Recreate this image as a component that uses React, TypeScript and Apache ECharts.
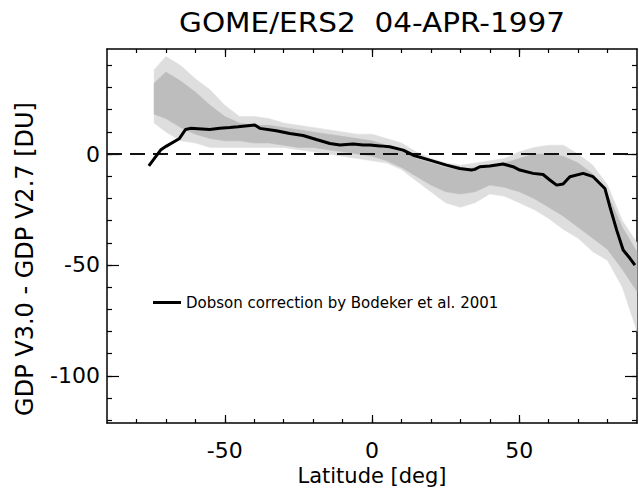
import React, { useEffect, useRef } from "react";
import * as echarts from "echarts";

const titleText = "GOME/ERS2  04-APR-1997";
const xName = "Latitude [deg]";
const yName = "GDP V3.0 - GDP V2.7 [DU]";
const legendName = "Dobson correction by Bodeker et al. 2001";

const xMin = -90;
const xMax = 90;
const yMin = -121.3;
const yMax = 47.4;
const xMajorTicks = [-50, 0, 50];
const xMinorTicks = [-80, -70, -60, -50, -40, -30, -20, -10, 0, 10, 20, 30, 40, 50, 60, 70, 80];
const yMajorTicks = [-100, -50, 0];
const yMinorTicks = [-120, -110, -100, -90, -80, -70, -60, -50, -40, -30, -20, -10, 0, 10, 20, 30, 40];

// Dobson correction curve
const dobsonLat = [
  -75.8, -71.8, -69.8, -65.5, -63.3, -61.7, -55.1, -51.7, -48.3, -45.5, -39.8, -38.1, -32.5, -27.9,
  -23.4, -18.9, -14.3, -10.9, -6.4, -3.0, -0.7, 2.7, 6.0, 10.6, 14.0, 19.6, 25.3, 29.8, 33.8, 34.9,
  36.6, 40.0, 44.5, 47.9, 50.2, 54.7, 58.1, 60.4, 62.7, 64.9, 67.2, 71.7, 75.1, 79.1, 80.8, 83.1,
  85.3, 87.6, 89.3,
];
const dobsonVal = [
  -5.3, 1.8, 3.6, 6.9, 11.1, 11.6, 11.1, 11.7, 12.0, 12.3, 13.1, 11.6, 10.5, 9.3, 8.4, 6.6, 4.8, 4.1,
  4.5, 4.1, 4.1, 3.7, 3.3, 1.8, -0.5, -2.7, -5.0, -6.5, -7.2, -6.9, -5.7, -5.4, -4.5, -5.7, -7.2, -8.7,
  -9.2, -11.7, -14.0, -13.5, -10.2, -8.7, -10.2, -15.5, -23.8, -34.3, -43.3, -47.0, -50.1,
];

// GOME difference cloud: envelopes of the scattered points
const bandLat = [
  -74, -70, -65, -60, -55, -50, -45, -40, -35, -30, -25, -20, -15, -10, -5, 0, 5, 10, 15, 20, 25, 30,
  35, 40, 45, 50, 55, 60, 65, 70, 75, 80, 85, 90,
];
const outerUpper = [
  38, 44, 40, 34, 29, 22, 17, 17, 16, 14, 13, 12, 11, 10, 9, 9, 7, 5, 1, -2, -4, -5, -4, -3, -2, 1, 3,
  4, 4, 0, -5, -14, -30, -40,
];
const outerLower = [
  14, 10, 6, 5, 3, 3, 3, 3, 3, 3, 2, 1, 0, -1, -2, -3, -4, -7, -12, -17, -22, -24, -22, -18, -19, -22,
  -25, -29, -34, -38, -44, -48, -60, -80,
];
const innerUpper = [
  32, 37, 33, 28, 22, 17, 14, 13, 13, 12, 11, 10, 9, 8, 7, 6, 4, 2, -2, -4, -6, -7, -6, -5, -4, -2, 0,
  0, -1, -4, -9, -18, -33, -44,
];
const innerLower = [
  18, 16, 12, 9, 7, 6, 6, 5, 5, 4, 3, 3, 2, 1, 0, -1, -3, -6, -10, -14, -17, -18, -17, -14, -15, -17,
  -20, -24, -28, -33, -38, -43, -52, -62,
];

const FONT = "DejaVu Sans, Verdana, sans-serif";

function xAxisDef(position: "top" | "bottom", major: boolean, labels: boolean) {
  return {
    type: "value",
    position,
    min: xMin,
    max: xMax,
    name: labels ? xName : "",
    nameLocation: "middle",
    nameGap: 40,
    nameTextStyle: { fontSize: 21, color: "#000", fontFamily: FONT },
    axisLine: { show: major, onZero: false, lineStyle: { color: "#000", width: 1.5 } },
    axisTick: {
      show: true,
      inside: true,
      length: major ? 8 : 4,
      customValues: major ? xMajorTicks : xMinorTicks,
      lineStyle: { color: "#000", width: 1.2 },
    },
    axisLabel: {
      show: labels,
      customValues: xMajorTicks,
      margin: 16,
      fontSize: 22,
      color: "#000",
      fontFamily: FONT,
    },
    splitLine: { show: false },
  };
}

function yAxisDef(position: "left" | "right", major: boolean, labels: boolean) {
  return {
    type: "value",
    position,
    min: yMin,
    max: yMax,
    name: labels ? yName : "",
    nameLocation: "middle",
    nameGap: 70,
    nameTextStyle: { fontSize: 24, color: "#000", fontFamily: FONT, padding: [0, 46, 0, 0] },
    axisLine: { show: major, onZero: false, lineStyle: { color: "#000", width: 1.5 } },
    axisTick: {
      show: true,
      inside: true,
      length: major ? 12 : 5,
      customValues: major ? yMajorTicks : yMinorTicks,
      lineStyle: { color: "#000", width: 1.2 },
    },
    axisLabel: {
      show: labels,
      customValues: yMajorTicks,
      margin: 7,
      fontSize: 22,
      color: "#000",
      fontFamily: FONT,
    },
    splitLine: { show: false },
  };
}

function bandSeries(name: string, upper: number[], lower: number[], color: string, z: number) {
  return {
    name,
    type: "custom",
    z,
    silent: true,
    data: bandLat.map((x, i) => [x, lower[i], upper[i]]),
    encode: { x: 0, y: [1, 2] },
    renderItem: (params: any, api: any) => {
      if (params.dataIndex !== 0) return null;
      const top = bandLat.map((x, i) => api.coord([x, upper[i]]));
      const bottom = bandLat.map((x, i) => api.coord([x, lower[i]])).reverse();
      return {
        type: "polygon",
        shape: { points: top.concat(bottom) },
        style: { fill: color, stroke: color, lineWidth: 0.5 },
      };
    },
  };
}

export default function App() {
  const ref = useRef<HTMLDivElement>(null);
  useEffect(() => {
    if (!ref.current) return;
    const chart = echarts.init(ref.current, null, { renderer: "svg" });
    const pair = (xs: number[], ys: number[]) => xs.map((x, i) => [x, ys[i]]);

    chart.setOption({
      animation: false,
      graphic: [
        {
          type: "text",
          x: 372,
          y: 23,
          scaleX: 1.135,
          style: {
            text: titleText,
            fontSize: 26,
            fontFamily: FONT,
            fill: "#000",
            align: "center",
            verticalAlign: "middle",
          },
        },
      ],
      legend: {
        data: [legendName],
        left: 148,
        top: 290,
        icon: "rect",
        itemWidth: 28,
        itemHeight: 3,
        textStyle: { fontSize: 15, color: "#000", fontFamily: FONT },
      },
      grid: {
        left: 107,
        right: 2,
        top: 49,
        bottom: 65,
        containLabel: false,
        outerBoundsMode: "none",
      },
      xAxis: [
        xAxisDef("bottom", false, true),
        xAxisDef("bottom", true, false),
        xAxisDef("top", false, false),
        xAxisDef("top", true, false),
      ],
      yAxis: [
        yAxisDef("left", false, true),
        yAxisDef("left", true, false),
        yAxisDef("right", false, false),
        yAxisDef("right", true, false),
      ],
      series: [
        bandSeries("GOME outer", outerUpper, outerLower, "#dedede", 1),
        bandSeries("GOME core", innerUpper, innerLower, "#bdbdbd", 2),
        {
          name: "zero",
          type: "line",
          data: [],
          z: 3,
          markLine: {
            silent: true,
            symbol: ["none", "none"],
            label: { show: false },
            lineStyle: { type: [15, 8], color: "#111", width: 2 },
            data: [{ yAxis: 0 }],
          },
        },
        {
          name: legendName,
          type: "line",
          data: pair(dobsonLat, dobsonVal),
          showSymbol: false,
          symbol: "none",
          lineStyle: { color: "#000", width: 3 },
          itemStyle: { color: "#000" },
          z: 5,
        },
      ],
    });
    return () => chart.dispose();
  }, []);
  return (
    <div
      ref={ref}
      style={{ position: "fixed", left: 0, top: 0, width: 639, height: 488, background: "#fff" }}
    />
  );
}
